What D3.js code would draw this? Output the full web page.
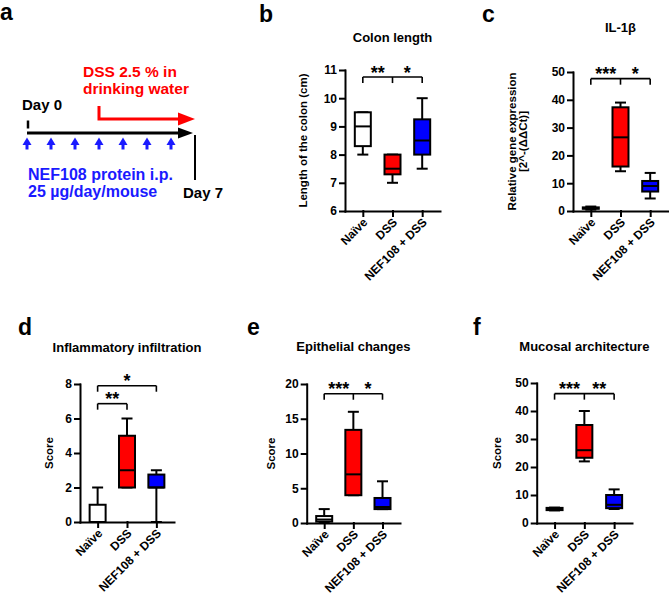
<!DOCTYPE html>
<html><head><meta charset="utf-8">
<script src="https://cdn.jsdelivr.net/npm/d3@7"></script>
<style>
body{margin:0;background:#fff;}
svg{display:block;font-family:"Liberation Sans",Arial,sans-serif;font-weight:bold;}
</style></head><body>
<svg id="fig" width="669" height="597"></svg>
<script>
// ---------- data ----------
const groups = ["Naïve", "DSS", "NEF108 + DSS"];
// box stats per group: [min, q1, median, q3, max]
const colonLength  = [[8, 8.3, 9, 9.5, 9.5], [7, 7.3, 7.5, 8, 8], [7.5, 8, 8.5, 9.25, 10]];
const il1b         = [[0.5, 0.8, 1.0, 1.3, 1.6], [14.3, 16, 26.5, 37.3, 39], [4.5, 7, 9, 10.8, 13.7]];
const inflammatory = [[0, 0, 0, 1, 2], [2, 2, 3, 5, 6], [0, 2, 2, 2.75, 3]];
const epithelial   = [[0, 0.2, 0.5, 1, 2], [4, 4, 7, 13.4, 16], [2, 2, 2.3, 3.6, 6]];
const mucosal      = [[4.5, 4.6, 5, 5.4, 5.5], [22, 23.3, 26, 35, 40], [5, 5.3, 6.5, 10, 12]];

const colonTicks = [6, 7, 8, 9, 10, 11];
const il1bTicks  = [0, 10, 20, 30, 40, 50];
const inflTicks  = [0, 2, 4, 6, 8];
const epiTicks   = [0, 5, 10, 15, 20];
const mucTicks   = [0, 10, 20, 30, 40, 50];

// significance brackets: groups joined, bracket level (data units), star labels [text, groupA, groupB]
const colonSig = [{g: [0, 1, 2], v: 10.75, stars: [["**", 0, 1], ["*", 1, 2]]}];
const il1bSig  = [{g: [0, 1, 2], v: 47.6, stars: [["***", 0, 1], ["*", 1, 2]]}];
const inflSig  = [{g: [0, 1], v: 6.86, stars: [["**", 0, 1]]}, {g: [0, 2], v: 7.9, stars: [["*", 0, 2]]}];
const epiSig   = [{g: [0, 1, 2], v: 18.6, stars: [["***", 0, 1], ["*", 1, 2]]}];
const mucSig   = [{g: [0, 1, 2], v: 46.2, stars: [["***", 0, 1], ["**", 1, 2]]}];

// panel a timeline
const timelineDays = [0, 7];
const injectionDays = [0, 1, 2, 3, 4, 5, 6];
const dssStartDay = 3;

// ---------- drawing ----------
const svg = d3.select("#fig");
const fills = ["#ffffff", "#ff0000", "#0000ff"];

function letter(t, x, y) {
  svg.append("text").attr("x", x).attr("y", y).attr("font-size", 23).attr("fill", "#000").text(t);
}

function boxPanel(cfg) {
  const g = svg.append("g");
  const y = d3.scaleLinear().domain(cfg.domain).range([cfg.yBot, cfg.yTop]);
  const x = d3.scalePoint().domain(groups).range([cfg.ax, cfg.xEnd]).padding(0.6);

  const ya = g.append("g").attr("transform", `translate(${cfg.ax},0)`)
    .call(d3.axisLeft(y).tickValues(cfg.ticks).tickFormat(d3.format("d"))
      .tickSize(5).tickSizeOuter(0).tickPadding(3));
  const xa = g.append("g").attr("transform", `translate(0,${cfg.yBot})`)
    .call(d3.axisBottom(x).tickSize(5).tickSizeOuter(0));
  [ya, xa].forEach(a => {
    a.attr("font-family", null).attr("font-size", null);
    a.selectAll("path,line").attr("stroke", "#000").attr("stroke-width", 2).attr("stroke-linecap", "square");
    a.selectAll("text").attr("font-size", 12).attr("fill", "#000");
  });
  xa.selectAll("text")
    .attr("text-anchor", "end")
    .attr("dy", null).attr("y", null)
    .attr("transform", "translate(5,12) rotate(-45)");

  // boxes
  const hw = 8, cw = 5.5;
  cfg.data.forEach((d, i) => {
    const cx = x(groups[i]);
    const [mn, q1, md, q3, mx] = d;
    const bg = g.append("g").attr("stroke", "#000").attr("stroke-width", 2);
    bg.append("line").attr("x1", cx).attr("x2", cx).attr("y1", y(q3)).attr("y2", y(mx));
    bg.append("line").attr("x1", cx).attr("x2", cx).attr("y1", y(q1)).attr("y2", y(mn));
    bg.append("line").attr("x1", cx - cw).attr("x2", cx + cw).attr("y1", y(mx)).attr("y2", y(mx));
    bg.append("line").attr("x1", cx - cw).attr("x2", cx + cw).attr("y1", y(mn)).attr("y2", y(mn));
    bg.append("rect").attr("x", cx - hw).attr("width", 2 * hw)
      .attr("y", y(q3)).attr("height", Math.max(0.5, y(q1) - y(q3))).attr("fill", fills[i]);
    bg.append("line").attr("x1", cx - hw).attr("x2", cx + hw).attr("y1", y(md)).attr("y2", y(md));
  });

  // significance brackets
  cfg.sig.forEach(s => {
    const by = y(s.v);
    const xs = s.g.map(k => x(groups[k]));
    const sg = g.append("g").attr("stroke", "#000").attr("stroke-width", 1.6).attr("fill", "none");
    sg.append("line").attr("x1", d3.min(xs)).attr("x2", d3.max(xs)).attr("y1", by).attr("y2", by);
    xs.forEach(xx => sg.append("line").attr("x1", xx).attr("x2", xx).attr("y1", by).attr("y2", by + 6));
    s.stars.forEach(([t, a, b]) => {
      g.append("text").attr("x", (x(groups[a]) + x(groups[b])) / 2).attr("y", by + 1.5)
        .attr("text-anchor", "middle").attr("font-size", 18).attr("fill", "#000").text(t);
    });
  });

  // title
  svg.append("text").attr("x", x(groups[1])).attr("y", cfg.titleY).attr("text-anchor", "middle")
    .attr("font-size", 13).attr("fill", "#000").text(cfg.title);
  // y label
  const cy = (cfg.yTop + cfg.yBot) / 2;
  cfg.ylabel.forEach((t, k) => {
    svg.append("text").attr("transform", `translate(${cfg.ylabX[k]},${cy}) rotate(-90)`)
      .attr("dy", "0.35em").attr("text-anchor", "middle").attr("font-size", 11.5).attr("fill", "#000").text(t);
  });
}

// panel a
(function () {
  letter("a", 0, 20);
  const xd = d3.scaleLinear().domain(timelineDays).range([27, 195]);
  const ty = 133;
  const g = svg.append("g");
  // main black arrow
  g.append("line").attr("x1", xd(0)).attr("x2", xd(7) - 16).attr("y1", ty).attr("y2", ty)
    .attr("stroke", "#000").attr("stroke-width", 3);
  g.append("path").attr("d", `M${xd(7) - 17},${ty - 5.5}L${xd(7) - 2},${ty}L${xd(7) - 17},${ty + 5.5}Z`).attr("fill", "#000");
  // day 0 tick
  g.append("line").attr("x1", xd(0) + 1).attr("x2", xd(0) + 1).attr("y1", 120.5).attr("y2", 128.5)
    .attr("stroke", "#000").attr("stroke-width", 2.5);
  // day 7 line
  g.append("line").attr("x1", xd(7)).attr("x2", xd(7)).attr("y1", 135).attr("y2", 180)
    .attr("stroke", "#000").attr("stroke-width", 2);
  // red DSS arrow
  const ry = 119;
  g.append("path").attr("d", `M${xd(dssStartDay)},106V${ry}H${xd(7) - 16}`)
    .attr("fill", "none").attr("stroke", "#ff0000").attr("stroke-width", 3);
  g.append("path").attr("d", `M${xd(7) - 17},${ry - 6.5}L${xd(7)},${ry}L${xd(7) - 17},${ry + 6.5}Z`).attr("fill", "#ff0000");
  // blue injection arrows
  injectionDays.forEach(d => {
    const cx = xd(d);
    g.append("line").attr("x1", cx).attr("x2", cx).attr("y1", 149.5).attr("y2", 142)
      .attr("stroke", "#1a1aff").attr("stroke-width", 3);
    g.append("path").attr("d", `M${cx - 4.5},${145}L${cx},${137.5}L${cx + 4.5},${145}Z`).attr("fill", "#1a1aff");
  });
  const tx = (t, x, y, c, s) => svg.append("text").attr("x", x).attr("y", y).attr("fill", c).attr("font-size", s).text(t);
  tx("DSS 2.5 % in", 83, 77, "#ff0000", 15.5);
  tx("drinking water", 83, 94, "#ff0000", 15.5);
  tx("Day 0", 22, 110, "#000", 15);
  tx("NEF108 protein i.p.", 28, 180, "#1a1aff", 16);
  tx("25 µg/day/mouse", 28, 197, "#1a1aff", 16);
  tx("Day 7", 183, 198, "#000", 15);
})();

letter("b", 259, 22);
boxPanel({ax: 345, xEnd: 440, yTop: 70, yBot: 211, domain: [6, 11], ticks: colonTicks, data: colonLength,
  sig: colonSig, title: "Colon length", titleY: 42, ylabel: ["Length of the colon (cm)"], ylabX: [303]});

letter("c", 482, 22);
boxPanel({ax: 573, xEnd: 668, yTop: 72, yBot: 211, domain: [0, 50], ticks: il1bTicks, data: il1b,
  sig: il1bSig, title: "IL-1β", titleY: 31.5, ylabel: ["Relative gene expression", "[2^-(ΔΔCt)]"], ylabX: [512, 523]});

letter("d", 18, 335);
boxPanel({ax: 80, xEnd: 174, yTop: 384, yBot: 522, domain: [0, 8], ticks: inflTicks, data: inflammatory,
  sig: inflSig, title: "Inflammatory infiltration", titleY: 352, ylabel: ["Score"], ylabX: [49]});

letter("e", 247, 335);
boxPanel({ax: 306.7, xEnd: 400, yTop: 384, yBot: 523, domain: [0, 20], ticks: epiTicks, data: epithelial,
  sig: epiSig, title: "Epithelial changes", titleY: 351, ylabel: ["Score"], ylabX: [271]});

letter("f", 473, 335);
boxPanel({ax: 536.7, xEnd: 632, yTop: 383, yBot: 523, domain: [0, 50], ticks: mucTicks, data: mucosal,
  sig: mucSig, title: "Mucosal architecture", titleY: 351, ylabel: ["Score"], ylabX: [497]});
</script>
</body></html>
